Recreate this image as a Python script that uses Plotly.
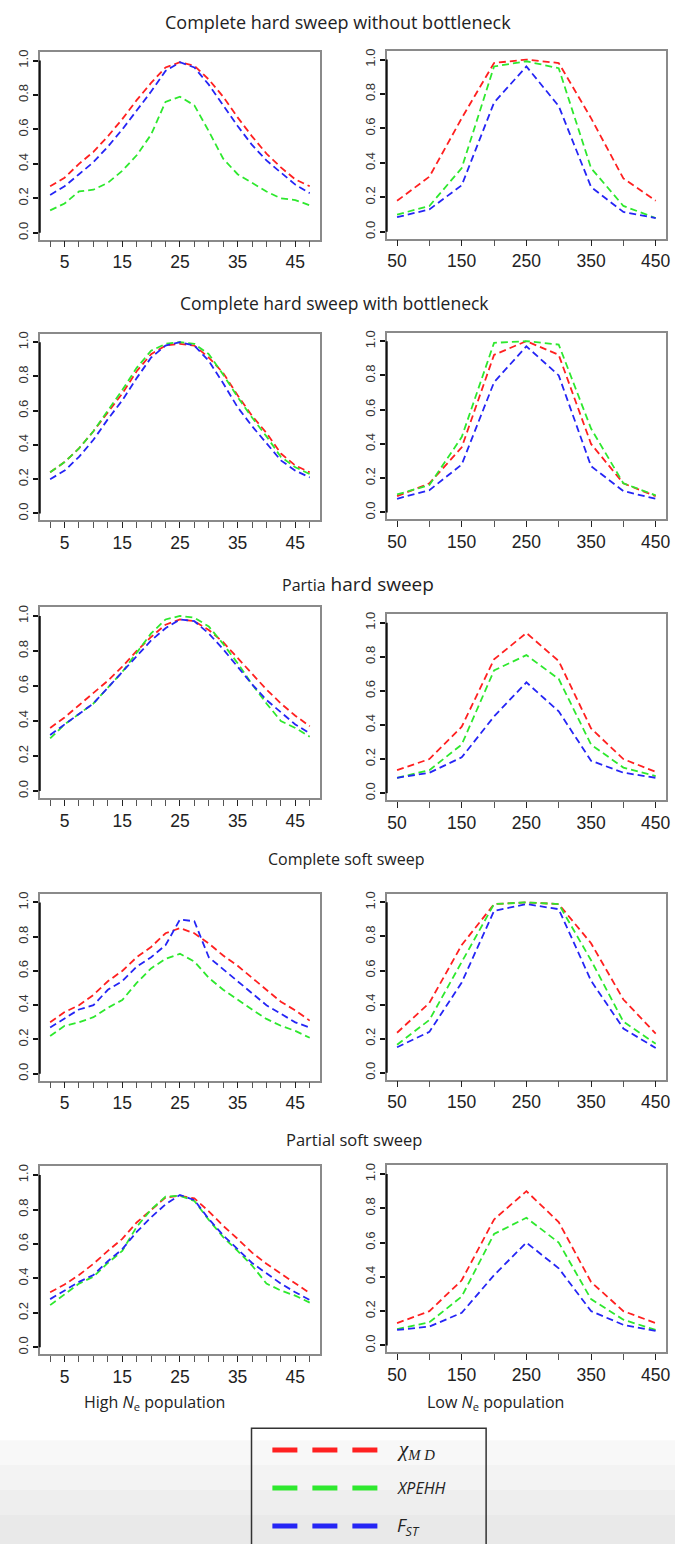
import plotly.graph_objects as go

W, H = 679, 1544

# ---------------- data ----------------
x_high = [2.5, 5, 7.5, 10, 12.5, 15, 17.5, 20, 22.5, 25, 27.5, 30, 32.5, 35, 37.5, 40, 42.5, 45, 47.5]
x_low = [50, 100, 150, 200, 250, 300, 350, 400, 450]
high_label_vals = [5, 15, 25, 35, 45]
high_label_text = ["5", "15", "25", "35", "45"]
low_label_vals = [50, 150, 250, 350, 450]
low_label_text = ["50", "150", "250", "350", "450"]
y_tickvals = [0.0, 0.2, 0.4, 0.6, 0.8, 1.0]
y_ticklabels = ["0.0", "0.2", "0.4", "0.6", "0.8", "1.0"]

titles = ["Complete hard sweep without bottleneck",
          "Complete hard sweep with bottleneck",
          "Partia hard sweep",
          "Complete soft sweep",
          "Partial soft sweep"]

# Row 1: complete hard sweep without bottleneck
r1_high_xmd = [0.27, 0.32, 0.40, 0.47, 0.56, 0.66, 0.77, 0.87, 0.96, 0.99, 0.97, 0.89, 0.79, 0.67, 0.56, 0.46, 0.38, 0.31, 0.27]
r1_high_xpehh = [0.13, 0.17, 0.24, 0.25, 0.29, 0.36, 0.45, 0.57, 0.76, 0.79, 0.74, 0.59, 0.43, 0.34, 0.29, 0.24, 0.20, 0.19, 0.16]
r1_high_fst = [0.22, 0.27, 0.34, 0.41, 0.50, 0.60, 0.71, 0.82, 0.94, 0.99, 0.96, 0.86, 0.74, 0.62, 0.51, 0.42, 0.35, 0.28, 0.23]
r1_low_xmd = [0.18, 0.32, 0.66, 0.98, 1.00, 0.98, 0.66, 0.31, 0.18]
r1_low_xpehh = [0.10, 0.15, 0.37, 0.96, 0.99, 0.95, 0.37, 0.15, 0.08]
r1_low_fst = [0.085, 0.13, 0.27, 0.75, 0.96, 0.73, 0.26, 0.115, 0.08]

# Row 2: complete hard sweep with bottleneck
r2_high_xmd = [0.24, 0.30, 0.38, 0.48, 0.59, 0.70, 0.83, 0.93, 0.98, 0.99, 0.98, 0.91, 0.82, 0.69, 0.57, 0.47, 0.35, 0.28, 0.24]
r2_high_xpehh = [0.24, 0.30, 0.38, 0.48, 0.60, 0.72, 0.85, 0.95, 0.99, 1.00, 0.99, 0.93, 0.81, 0.68, 0.56, 0.45, 0.33, 0.27, 0.23]
r2_high_fst = [0.20, 0.25, 0.33, 0.43, 0.55, 0.66, 0.79, 0.91, 0.98, 1.00, 0.98, 0.89, 0.76, 0.62, 0.51, 0.41, 0.31, 0.25, 0.21]
r2_low_xmd = [0.095, 0.17, 0.38, 0.92, 1.00, 0.92, 0.40, 0.17, 0.095]
r2_low_xpehh = [0.105, 0.16, 0.44, 0.99, 1.00, 0.98, 0.49, 0.17, 0.10]
r2_low_fst = [0.08, 0.13, 0.28, 0.76, 0.97, 0.80, 0.27, 0.125, 0.08]

# Row 3: partial hard sweep
r3_high_xmd = [0.36, 0.42, 0.49, 0.56, 0.63, 0.71, 0.80, 0.88, 0.95, 0.98, 0.97, 0.92, 0.85, 0.76, 0.67, 0.58, 0.50, 0.43, 0.37]
r3_high_xpehh = [0.30, 0.38, 0.44, 0.50, 0.59, 0.68, 0.79, 0.90, 0.98, 1.00, 0.99, 0.94, 0.84, 0.73, 0.61, 0.50, 0.40, 0.36, 0.31]
r3_high_fst = [0.32, 0.38, 0.44, 0.50, 0.59, 0.68, 0.77, 0.86, 0.93, 0.98, 0.97, 0.90, 0.81, 0.71, 0.61, 0.52, 0.45, 0.38, 0.33]
r3_low_xmd = [0.135, 0.20, 0.39, 0.785, 0.94, 0.775, 0.38, 0.20, 0.125]
r3_low_xpehh = [0.09, 0.135, 0.285, 0.72, 0.81, 0.67, 0.285, 0.15, 0.10]
r3_low_fst = [0.09, 0.12, 0.21, 0.45, 0.65, 0.48, 0.19, 0.12, 0.09]

# Row 4: complete soft sweep
r4_high_xmd = [0.30, 0.36, 0.40, 0.46, 0.54, 0.60, 0.68, 0.74, 0.82, 0.85, 0.82, 0.76, 0.69, 0.63, 0.56, 0.49, 0.42, 0.37, 0.31]
r4_high_xpehh = [0.22, 0.28, 0.30, 0.33, 0.385, 0.43, 0.53, 0.615, 0.67, 0.70, 0.655, 0.56, 0.49, 0.43, 0.375, 0.32, 0.28, 0.25, 0.21]
r4_high_fst = [0.27, 0.32, 0.375, 0.40, 0.49, 0.54, 0.625, 0.68, 0.75, 0.90, 0.89, 0.68, 0.61, 0.54, 0.47, 0.40, 0.35, 0.30, 0.27]
r4_low_xmd = [0.235, 0.41, 0.75, 0.99, 1.00, 0.99, 0.76, 0.43, 0.23]
r4_low_xpehh = [0.165, 0.31, 0.65, 0.99, 1.00, 0.99, 0.66, 0.30, 0.17]
r4_low_fst = [0.15, 0.24, 0.53, 0.95, 0.99, 0.96, 0.54, 0.26, 0.145]

# Row 5: partial soft sweep
r5_high_xmd = [0.32, 0.365, 0.42, 0.485, 0.56, 0.63, 0.725, 0.80, 0.87, 0.88, 0.865, 0.79, 0.705, 0.63, 0.55, 0.485, 0.43, 0.37, 0.315]
r5_high_xpehh = [0.245, 0.31, 0.37, 0.41, 0.49, 0.56, 0.70, 0.80, 0.875, 0.88, 0.85, 0.74, 0.64, 0.56, 0.475, 0.37, 0.33, 0.30, 0.26]
r5_high_fst = [0.28, 0.33, 0.38, 0.42, 0.50, 0.57, 0.67, 0.755, 0.83, 0.885, 0.855, 0.745, 0.65, 0.57, 0.49, 0.43, 0.37, 0.32, 0.275]
r5_low_xmd = [0.13, 0.20, 0.38, 0.735, 0.90, 0.72, 0.37, 0.20, 0.13]
r5_low_xpehh = [0.095, 0.135, 0.285, 0.65, 0.745, 0.60, 0.27, 0.15, 0.09]
r5_low_fst = [0.09, 0.11, 0.19, 0.41, 0.60, 0.45, 0.20, 0.12, 0.085]

series_names = ["χMD", "XPEHH", "FST"]
series_colors = ["#ff2020", "#2ee82e", "#2525f5"]

panels = [
    (x_high, [r1_high_xmd, r1_high_xpehh, r1_high_fst]),
    (x_low, [r1_low_xmd, r1_low_xpehh, r1_low_fst]),
    (x_high, [r2_high_xmd, r2_high_xpehh, r2_high_fst]),
    (x_low, [r2_low_xmd, r2_low_xpehh, r2_low_fst]),
    (x_high, [r3_high_xmd, r3_high_xpehh, r3_high_fst]),
    (x_low, [r3_low_xmd, r3_low_xpehh, r3_low_fst]),
    (x_high, [r4_high_xmd, r4_high_xpehh, r4_high_fst]),
    (x_low, [r4_low_xmd, r4_low_xpehh, r4_low_fst]),
    (x_high, [r5_high_xmd, r5_high_xpehh, r5_high_fst]),
    (x_low, [r5_low_xmd, r5_low_xpehh, r5_low_fst]),
]

# ---------------- layout geometry (pixels) ----------------
left_px = (40, 322)
right_px = (389, 670)
rows_px = [((50, 238), (49, 237)),
           ((332, 519), (331, 518)),
           ((606, 797), (613, 799)),
           ((893, 1080), (893, 1079)),
           ((1166, 1354), (1165, 1352))]

def px_x(p):
    return p / W

def px_y(p):
    return 1 - p / H

fig = go.Figure()
layout = dict(
    width=W, height=H,
    margin=dict(l=0, r=0, t=0, b=0),
    paper_bgcolor="white", plot_bgcolor="white",
    showlegend=False,
    font=dict(family="Liberation Sans, Arial, sans-serif", color="#222"),
)
shapes = []
annotations = []

# light grey band at the bottom of the page
bands = [(1440, 1465, "#f8f8f8"), (1465, 1490, "#f3f3f3"), (1490, 1515, "#eeeeee"), (1515, 1544, "#e9e9e9")]
for y0, y1, c in bands:
    shapes.append(dict(type="rect", xref="paper", yref="paper", x0=0, x1=1,
                       y0=px_y(y1), y1=px_y(y0), fillcolor=c, line=dict(width=0), layer="below"))

for i, (xs, ys_list) in enumerate(panels):
    k = i + 1
    row = i // 2
    is_left = (i % 2 == 0)
    xpx = left_px if is_left else right_px
    ypx = rows_px[row][0] if is_left else rows_px[row][1]
    xa = "x" if k == 1 else f"x{k}"
    ya = "y" if k == 1 else f"y{k}"
    for name, col, ys in zip(series_names, series_colors, ys_list):
        fig.add_trace(go.Scatter(x=xs, y=ys, mode="lines", name=name,
                                 line=dict(color=col, width=1.8, dash="7px,4px"),
                                 xaxis=xa, yaxis=ya, hoverinfo="skip"))
    xkey = "xaxis" if k == 1 else f"xaxis{k}"
    ykey = "yaxis" if k == 1 else f"yaxis{k}"
    if is_left:
        xr = [0.7, 49.3]
        tv, tt = high_label_vals, high_label_text
    else:
        xr = [34, 466]
        tv, tt = low_label_vals, low_label_text
    layout[xkey] = dict(domain=[px_x(xpx[0]), px_x(xpx[1])], anchor=ya, range=xr,
                        tickmode="array", tickvals=tv, ticktext=tt,
                        ticks="outside", ticklen=6, tickwidth=1.3, tickcolor="#222",
                        minor=dict(tickmode="array", tickvals=xs, ticks="outside", ticklen=6,
                                   tickwidth=1.1, tickcolor="#555", showgrid=False),
                        showline=True, linecolor="#8a8a8a", linewidth=1.5, mirror=True,
                        showgrid=False, zeroline=False,
                        tickfont=dict(size=17.5, color="#222", family="Liberation Sans, Arial"))
    layout[ykey] = dict(domain=[px_y(ypx[1]), px_y(ypx[0])], anchor=xa, range=[-0.04, 1.05],
                        tickmode="array", tickvals=y_tickvals, ticktext=y_ticklabels,
                        ticks="outside", ticklen=5, tickwidth=1.5, tickcolor="#111",
                        showline=True, linecolor="#8a8a8a", linewidth=1.5, mirror=True,
                        showgrid=False, zeroline=False, tickangle=-90,
                        tickfont=dict(size=13, color="#333", family="Liberation Sans, Arial"))
    # dark y-axis segment from 0 to 1 (R-style axis)
    shapes.append(dict(type="line", xref=f"{xa} domain", yref=ya, x0=0, x1=0, y0=0, y1=1,
                       line=dict(color="#111", width=2)))

# row titles
title_pos = [(340, 20, 18), (336, 301, 17.5), (360, 583, 19), (348, 858, 16), (356, 1139, 16.5)]
for (cx, cy, fs), t in zip(title_pos, titles):
    if t.startswith("Partia "):
        txt = "<span style='font-size:16px'>Partia</span> hard sweep"
    else:
        txt = t
    annotations.append(dict(x=px_x(cx), y=px_y(cy), xref="paper", yref="paper", text=txt,
                            showarrow=False, xanchor="center", yanchor="middle",
                            font=dict(size=fs, color="#222", family="Open Sans, Liberation Sans")))

# x-axis titles
annotations.append(dict(x=px_x(155), y=px_y(1402), xref="paper", yref="paper",
                        text="High <i>N</i><sub>e</sub> population", showarrow=False,
                        xanchor="center", yanchor="middle",
                        font=dict(size=16, color="#222", family="Open Sans, Liberation Sans")))
annotations.append(dict(x=px_x(498), y=px_y(1402), xref="paper", yref="paper",
                        text="Low <i>N</i><sub>e</sub> population", showarrow=False,
                        xanchor="center", yanchor="middle",
                        font=dict(size=16, color="#222", family="Open Sans, Liberation Sans")))

# legend (drawn manually, R-style)
shapes.append(dict(type="rect", xref="paper", yref="paper", x0=px_x(253), x1=px_x(489),
                   y0=px_y(1550), y1=px_y(1428), line=dict(color="#333", width=1.5),
                   fillcolor="rgba(0,0,0,0)"))
leg_y = [1450, 1488, 1526]
leg_text = ["<i>χ</i><sub><i>M D</i></sub>", "<i>XPEHH</i>", "<i>F</i><sub><i>ST</i></sub>"]
leg_font = [dict(size=21, family="Liberation Serif, Times New Roman", color="#222"),
            dict(size=16, family="Open Sans, Liberation Sans", color="#222"),
            dict(size=18, family="Open Sans, Liberation Sans", color="#222")]
for y, col, txt, fnt in zip(leg_y, series_colors, leg_text, leg_font):
    shapes.append(dict(type="line", xref="paper", yref="paper", x0=px_x(274), x1=px_x(380),
                       y0=px_y(y), y1=px_y(y), line=dict(color=col, width=5, dash="25px,15px")))
    annotations.append(dict(x=px_x(397), y=px_y(y), xref="paper", yref="paper", text=txt,
                            showarrow=False, xanchor="left", yanchor="middle", font=fnt))

layout["shapes"] = shapes
layout["annotations"] = annotations
fig.update_layout(**layout)
fig.write_html("out.html")
